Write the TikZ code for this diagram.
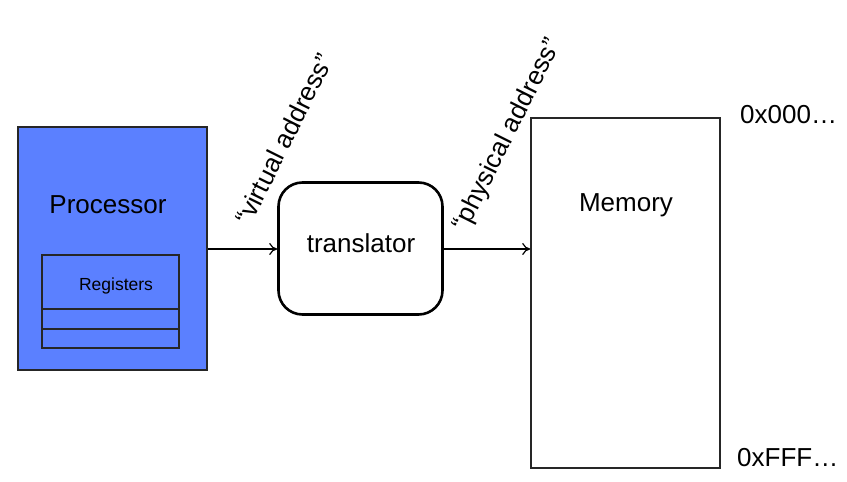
\documentclass[tikz,border=0pt]{standalone}
\usepackage{fontspec}
\setmainfont{Liberation Sans}
\usetikzlibrary{arrows.meta}
\definecolor{procblue}{HTML}{5B80FF}
\begin{document}
\begin{tikzpicture}[x=1pt,y=-1pt,
  big/.style={font=\fontsize{26}{30}\selectfont},
  conn/.style={line width=1.4pt,-{To[length=8pt,width=12pt,line width=1.2pt]}},
  lbl/.style={big,rotate=63.5,inner sep=0pt}]
\useasboundingbox[fill=white] (0,0) rectangle (847,482);
\node[draw=black!85,line width=1.4pt,fill=procblue,minimum width=189pt,minimum height=243pt,inner sep=0pt] (proc) at (112.5,248.5) {};
\node[big,anchor=center] (proct) at (108,205) {Processor};
\node[draw=black!85,line width=1.2pt,minimum width=137pt,minimum height=93pt,inner sep=0pt] (regs) at (110.5,301.5) {};
\node[font=\fontsize{17.5}{20}\selectfont] (regst) at (116,286) {Registers};
\coordinate (r1l) at (42,309); \coordinate (r1r) at (179,309);
\coordinate (r2l) at (42,329); \coordinate (r2r) at (179,329);
\draw[line width=1.2pt,black!85] (r1l) -- (r1r) (r2l) -- (r2r);
\node[draw=black,line width=2.6pt,rounded corners=24pt,minimum width=164pt,minimum height=132pt,inner sep=0pt] (trans) at (360.5,248.5) {};
\node[big] (transt) at (361,243) {translator};
\node[draw=black!85,line width=1.6pt,minimum width=189pt,minimum height=350pt,inner sep=0pt] (mem) at (625.5,293) {};
\node[big] (memt) at (626,205) {Memory};
\node[big,anchor=west,inner sep=0pt] (lo) at (740,115) {0x000…};
\node[big,anchor=west,inner sep=0pt] (hi) at (737,458) {0xFFF…};
\coordinate (a1s) at (proc.east |- 0,249);
\coordinate (a1e) at (trans.west |- 0,249);
\coordinate (a2s) at (trans.east |- 0,249);
\coordinate (a2e) at (mem.west |- 0,249);
\draw[conn] (a1s) -- (a1e);
\draw[conn] (a2s) -- (a2e);
\node[lbl] (va) at (284,139) {“virtual address”};
\node[lbl] (pa) at (508,135) {“physical address”};
\end{tikzpicture}
\end{document}
